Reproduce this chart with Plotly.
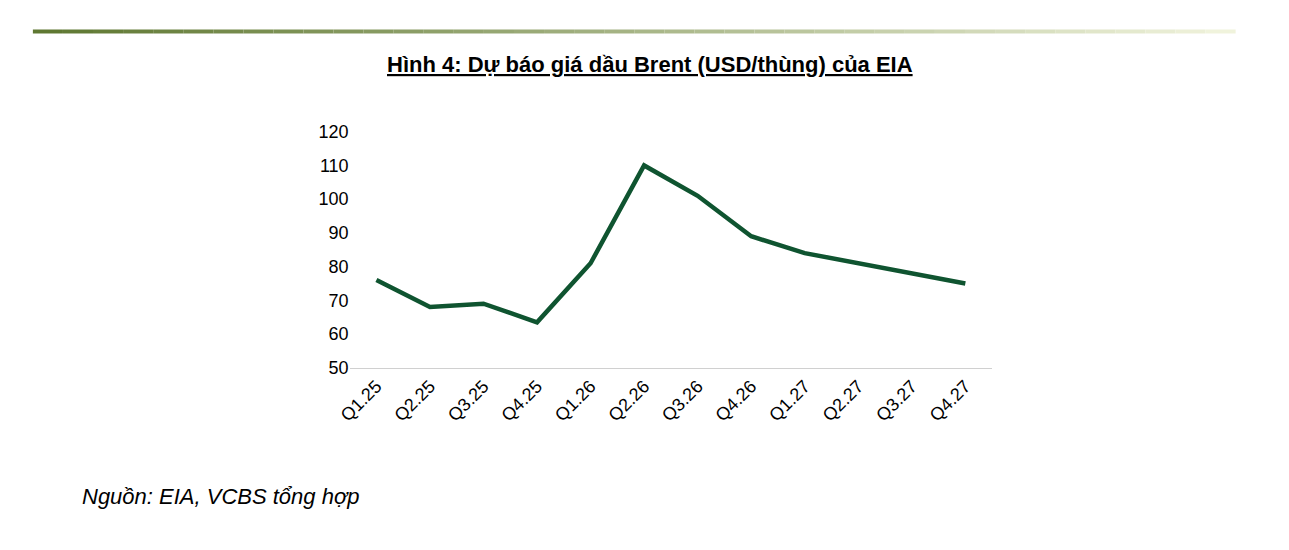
import plotly.graph_objects as go

categories = ["Q1.25","Q2.25","Q3.25","Q4.25","Q1.26","Q2.26","Q3.26","Q4.26","Q1.27","Q2.27","Q3.27","Q4.27"]
brent = [76, 68, 69, 63.5, 81, 110, 101, 89, 84, 81, 78, 75]
y_ticks = [50, 60, 70, 80, 90, 100, 110, 120]

W, H = 1289, 550
fig = go.Figure()
fig.add_trace(go.Scatter(x=categories, y=brent, mode="lines",
                         line=dict(color="#0f5430", width=4.5)))

shapes = []
n = 40
x0, x1 = 12/W, 1227/W
for i in range(n):
    t = i / (n - 1)
    r = int(95 + (240 - 95) * t); g = int(120 + (243 - 120) * t); b = int(50 + (220 - 50) * t)
    shapes.append(dict(type="line", xref="paper", yref="paper",
                       x0=x0 + (x1 - x0) * i / n, x1=x0 + (x1 - x0) * (i + 1) / n,
                       y0=1 - 14/H, y1=1 - 14/H,
                       line=dict(color=f"rgb({r},{g},{b})", width=4)))

fig.update_layout(
    width=W, height=H, margin=dict(l=0, r=0, t=0, b=0),
    paper_bgcolor="white", plot_bgcolor="white", showlegend=False,
    font=dict(family="Liberation Sans, Arial", size=18, color="black"),
    shapes=shapes,
    xaxis=dict(domain=[332/W, 981/W], tickangle=-45, showgrid=False,
               showline=True, linecolor="#d0d0d0", linewidth=1, ticks="",
               range=[-0.5, 11.5]),
    yaxis=dict(domain=[187/H, 432/H], range=[50, 120], tickvals=y_ticks,
               showgrid=False, zeroline=False, showline=False, ticks="", ticklen=0),
    annotations=[
        dict(text="<b><u>Hình 4: Dự báo giá dầu Brent (USD/thùng) của EIA</u></b>",
             xref="paper", yref="paper", x=635/W, y=1 - 48/H,
             showarrow=False, font=dict(size=22), xanchor="center", yanchor="middle"),
        dict(text="<i>Nguồn: EIA, VCBS tổng hợp</i>",
             xref="paper", yref="paper", x=60/W, y=1 - 497/H,
             showarrow=False, font=dict(size=22), xanchor="left", yanchor="middle"),
    ],
)
fig.write_html("out.html")
